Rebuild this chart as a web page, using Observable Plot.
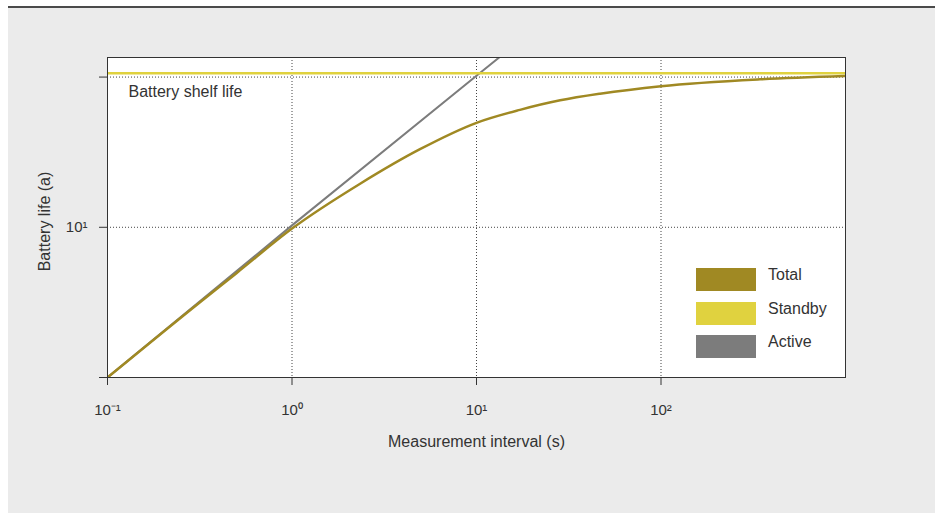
<!DOCTYPE html>
<html>
<head>
<meta charset="utf-8">
<script src="https://cdn.jsdelivr.net/npm/d3@7"></script>
<script src="https://cdn.jsdelivr.net/npm/@observablehq/plot@0.6"></script>
<style>
  html, body { margin: 0; padding: 0; background: #ffffff; }
  #wrap { position: relative; width: 939px; height: 513px; font-family: "Liberation Sans", Arial, sans-serif; }
  #panel { position: absolute; left: 8px; top: 8px; width: 927px; height: 505px; background: #ebebeb; }
  #topline { position: absolute; left: 8px; top: 6px; width: 927px; height: 2px; background: #4a4a4a; }
  #chart { position: absolute; left: 0; top: 0; }
  #chart svg { background: transparent !important; }
  .leg { position: absolute; left: 696px; width: 60px; height: 23px; }
  .legt { position: absolute; left: 768px; font-size: 16px; color: #333; line-height: 16px; }
</style>
</head>
<body>
<div id="wrap">
  <div id="panel"></div>
  <div id="topline"></div>
  <div id="chart"></div>
  <div id="legend"></div>
</div>
<script>
// Measurement interval (s) vs battery life (years)
const totalIntervals = [0.1, 0.316, 0.5, 1, 2.34, 4.94, 10, 17.2, 28.4, 46.7, 100, 344, 1000];
const totalLife      = [1.0, 3.16, 4.95, 9.8, 19.5, 33.1, 49.6, 60.5, 70, 77.5, 87, 96.6, 101.6];
const activeIntervals = [0.1, 1, 10, 20];
const activeLife      = [1.0, 10.3, 102, 203];
const standbyIntervals = [0.1, 1000];
const standbyLife      = [106, 106];
const xTicks = [0.1, 1, 10, 100];
const xTickLabels = ["10⁻¹", "10⁰", "10¹", "10²"];
const yTicks = [1, 10, 100];
const yTickLabels = ["", "10¹", ""];
const xGrid = [1, 10, 100];
const yGrid = [10, 100];
const seriesNames = ["Total", "Standby", "Active"];
const seriesColors = ["#a08923", "#e0d23f", "#7c7c7c"];

const toRows = (xs, ys) => xs.map((x, i) => ({x, y: ys[i]}));
const total = toRows(totalIntervals, totalLife);
const active = toRows(activeIntervals, activeLife);
const standby = toRows(standbyIntervals, standbyLife);

const chart = Plot.plot({
  width: 939,
  height: 513,
  marginLeft: 107,
  marginRight: 94,
  marginTop: 57,
  marginBottom: 136,
  style: {background: "transparent", fontFamily: "Liberation Sans, Arial, sans-serif", color: "#333"},
  x: {type: "log", domain: [0.1, 1000]},
  y: {type: "log", domain: [1, 135]},
  marks: [
    Plot.frame({fill: "white", stroke: "none"}),
    Plot.ruleX(xGrid, {stroke: "#444", strokeDasharray: "1,2", strokeWidth: 1}),
    Plot.ruleY(yGrid, {stroke: "#444", strokeDasharray: "1,2", strokeWidth: 1}),
    Plot.line(active, {x: "x", y: "y", stroke: seriesColors[2], strokeWidth: 2, clip: true}),
    Plot.line(standby, {x: "x", y: "y", stroke: seriesColors[1], strokeWidth: 2.5, clip: true}),
    Plot.line(total, {x: "x", y: "y", stroke: seriesColors[0], strokeWidth: 2.5, curve: "monotone-x", clip: true}),
    Plot.frame({stroke: "#333", strokeWidth: 1}),
    Plot.axisX({ticks: xTicks, tickFormat: (d) => xTickLabels[xTicks.indexOf(d)], tickSize: 8, tickPadding: 19, fontSize: 15, stroke: "#333", label: null}),
    Plot.axisY({ticks: yTicks, tickFormat: (d) => yTickLabels[yTicks.indexOf(d)], tickSize: 8, tickPadding: 12, fontSize: 15, stroke: "#333", label: null}),
    Plot.text(["Measurement interval (s)"], {frameAnchor: "bottom", lineAnchor: "middle", dy: 64, fontSize: 16, fill: "#333"}),
    Plot.text(["Battery life (a)"], {frameAnchor: "left", textAnchor: "middle", lineAnchor: "middle", dx: -63, dy: 4, rotate: -90, fontSize: 16, fill: "#333"}),
    Plot.text(["Battery shelf life"], {frameAnchor: "top-left", lineAnchor: "middle", dx: 21, dy: 34, textAnchor: "start", fontSize: 16, fill: "#333"})
  ]
});
document.getElementById("chart").appendChild(chart);

const legend = document.getElementById("legend");
const legTops = [268, 302, 335];
seriesNames.forEach((name, i) => {
  const sw = document.createElement("div");
  sw.className = "leg";
  sw.style.top = legTops[i] + "px";
  sw.style.background = seriesColors[i];
  legend.appendChild(sw);
  const t = document.createElement("div");
  t.className = "legt";
  t.style.top = (legTops[i] - 1) + "px";
  t.textContent = name;
  legend.appendChild(t);
});
</script>
</body>
</html>
